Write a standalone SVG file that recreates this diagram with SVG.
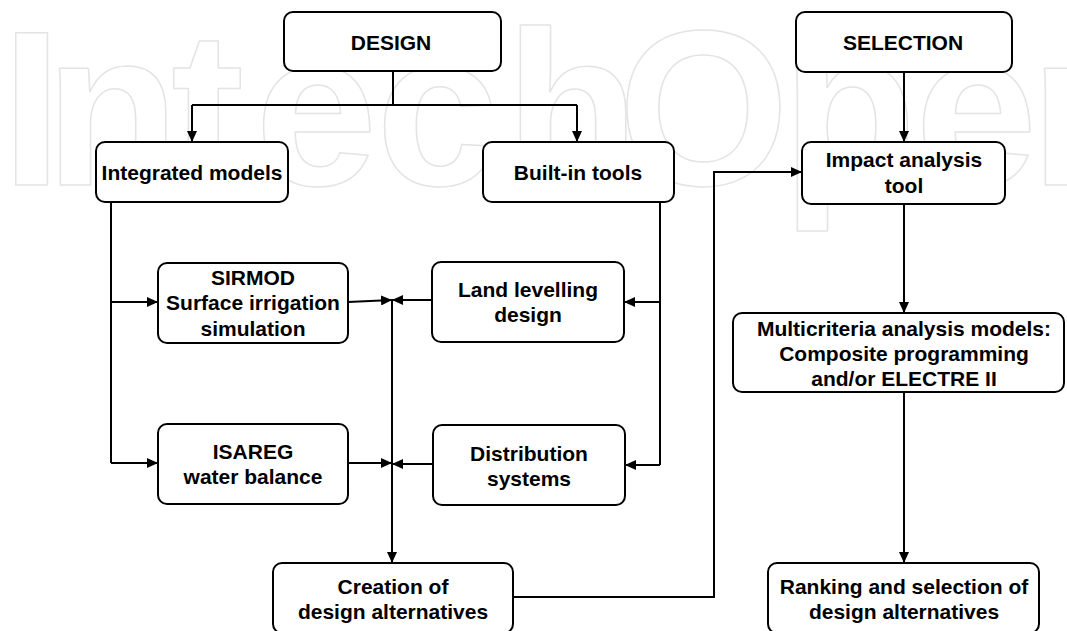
<svg xmlns="http://www.w3.org/2000/svg" width="1067" height="631" viewBox="0 0 1067 631">
<style>
.wm{font-family:"Liberation Sans",Arial,sans-serif;font-weight:bold;font-size:220px;fill:none;stroke:#e4e4e4;stroke-width:1.5;stroke-linejoin:round}
.box{fill:#fff;stroke:#000;stroke-width:2}
.t{font-family:"Liberation Sans",Arial,sans-serif;font-weight:bold;font-size:21px;fill:#000;text-anchor:middle}
.c{fill:none;stroke:#000;stroke-width:2}
</style>
<defs>
<marker id="ah" markerUnits="userSpaceOnUse" markerWidth="12" markerHeight="10" refX="11" refY="5" orient="auto">
<path d="M0,0 L11,5 L0,10 z" fill="#000"/>
</marker>
</defs>
<rect width="1067" height="631" fill="#fff"/>
<text class="wm" x="1 45 171 255 376 505 618 782 915 1030" y="185">IntechOpen</text>
<g id="connectors">
<path class="c" d="M393,71 V105 M192,105 H577"/>
<path class="c" d="M192,105 V142" marker-end="url(#ah)"/>
<path class="c" d="M577,105 V142" marker-end="url(#ah)"/>
<path class="c" d="M904,72 V142" marker-end="url(#ah)"/>
<path class="c" d="M111,202 V463"/>
<path class="c" d="M111,302 H158" marker-end="url(#ah)"/>
<path class="c" d="M111,463 H158" marker-end="url(#ah)"/>
<path class="c" d="M660,202 V465"/>
<path class="c" d="M660,302 H624" marker-end="url(#ah)"/>
<path class="c" d="M660,465 H625" marker-end="url(#ah)"/>
<path class="c" d="M348,302 L392,300" marker-end="url(#ah)"/>
<path class="c" d="M432,300 H392" marker-end="url(#ah)"/>
<path class="c" d="M348,463 H392" marker-end="url(#ah)"/>
<path class="c" d="M433,464 H392" marker-end="url(#ah)"/>
<path class="c" d="M392,300 V563" marker-end="url(#ah)"/>
<path class="c" d="M513,597 H714 V172 H802" marker-end="url(#ah)"/>
<path class="c" d="M904,204 V313" marker-end="url(#ah)"/>
<path class="c" d="M904,392 V563" marker-end="url(#ah)"/>
</g>
<g id="design"><rect class="box" x="284" y="12" width="217" height="59" rx="9"/><text class="t" x="391" y="50">DESIGN</text></g>
<g id="selection"><rect class="box" x="796" y="12" width="216" height="60" rx="9"/><text class="t" x="903" y="50">SELECTION</text></g>
<g id="integrated"><rect class="box" x="96" y="142" width="192" height="60" rx="9"/><text class="t" x="192" y="180">Integrated models</text></g>
<g id="builtin"><rect class="box" x="483" y="142" width="191" height="60" rx="9"/><text class="t" x="578" y="180">Built-in tools</text></g>
<g id="impact"><rect class="box" x="802" y="142" width="203" height="62" rx="9"/><text class="t" x="904" y="167">Impact analysis</text><text class="t" x="904" y="193">tool</text></g>
<g id="sirmod"><rect class="box" x="158" y="263" width="190" height="80" rx="9"/><text class="t" x="253" y="285">SIRMOD</text><text class="t" x="253" y="310">Surface irrigation</text><text class="t" x="253" y="335.5">simulation</text></g>
<g id="land"><rect class="box" x="432" y="262" width="192" height="80" rx="9"/><text class="t" x="528" y="297">Land levelling</text><text class="t" x="528" y="322">design</text></g>
<g id="isareg"><rect class="box" x="158" y="424" width="190" height="80" rx="9"/><text class="t" x="253" y="459">ISAREG</text><text class="t" x="253" y="484">water balance</text></g>
<g id="distribution"><rect class="box" x="433" y="425" width="192" height="80" rx="9"/><text class="t" x="529" y="460.5">Distribution</text><text class="t" x="529" y="486">systems</text></g>
<g id="multicriteria"><rect class="box" x="733" y="313" width="331" height="79" rx="9"/><text class="t" x="904" y="336">Multicriteria analysis models:</text><text class="t" x="904" y="361">Composite programming</text><text class="t" x="904" y="386">and/or ELECTRE II</text></g>
<g id="creation"><rect class="box" x="273" y="563" width="240" height="70" rx="9"/><text class="t" x="393" y="594">Creation of</text><text class="t" x="393" y="619">design alternatives</text></g>
<g id="ranking"><rect class="box" x="768" y="563" width="271" height="70" rx="9"/><text class="t" x="904" y="594">Ranking and selection of</text><text class="t" x="904" y="619">design alternatives</text></g>
</svg>
